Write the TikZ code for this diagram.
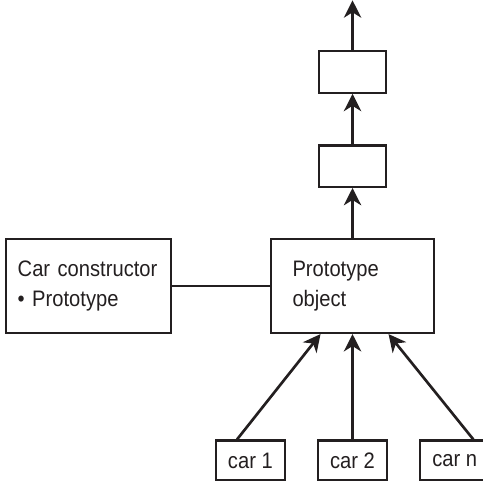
\documentclass[tikz,border=0pt]{standalone}
\usepackage{fontspec}
\setmainfont[FakeStretch=0.9]{Liberation Sans}
\usetikzlibrary{positioning}
\usetikzlibrary{arrows.meta}
\usetikzlibrary{calc}
\definecolor{ink}{RGB}{35,31,32}

\begin{document}
\begin{tikzpicture}[
		font=\fontsize{16.8pt}{22.5pt}\selectfont,
		bigbox/.style={rectangle, draw=ink, line width=1.6pt, text=ink, align=left, minimum height=70.5pt},
		smallbox/.style={rectangle, draw=ink, line width=1.6pt, minimum width=50pt, minimum height=31pt},
		carbox/.style={rectangle, draw=ink, line width=1.6pt, text=ink, minimum width=52pt, minimum height=30pt, inner sep=0pt},
		arrow/.style={-{Stealth[length=13pt, width=13pt, inset=4pt]}, draw=ink, line width=2pt}
	]
		\useasboundingbox (0,0) rectangle (362.25pt,-360pt);
		\node[bigbox, text width=90pt, inner xsep=16pt] (proto) at (264.4pt,-214.5pt) {Prototype\\object};
		\node[bigbox, text width=106pt, inner xsep=9pt, left=73.5pt of proto] (ctor) {Car constructor\\\textbullet\ Prototype};
		\node[smallbox, above=37.5pt of proto] (chain1) {};
		\node[smallbox, above=38pt of chain1] (chain2) {};
		\coordinate[above=37.5pt of chain2] (chaintop);
		\node[carbox, below=79pt of proto] (car2) {car 2};
		\node[carbox, left=23pt of car2] (car1) {car 1};
		\node[carbox, right=23pt of car2] (carn) {car n};

		\draw[draw=ink, line width=1.8pt] (ctor) -- (proto);
		\draw[arrow] (proto) -- (chain1);
		\draw[arrow] (chain1) -- (chain2);
		\draw[arrow] (chain2) -- (chaintop);
		\draw[arrow] ([xshift=-10pt]car1.north) -- ([xshift=-24pt]proto.south);
		\draw[arrow] (car2) -- (proto);
		\draw[arrow] ([xshift=14pt]carn.north) -- ([xshift=27pt]proto.south);
	\end{tikzpicture}
\end{document}
